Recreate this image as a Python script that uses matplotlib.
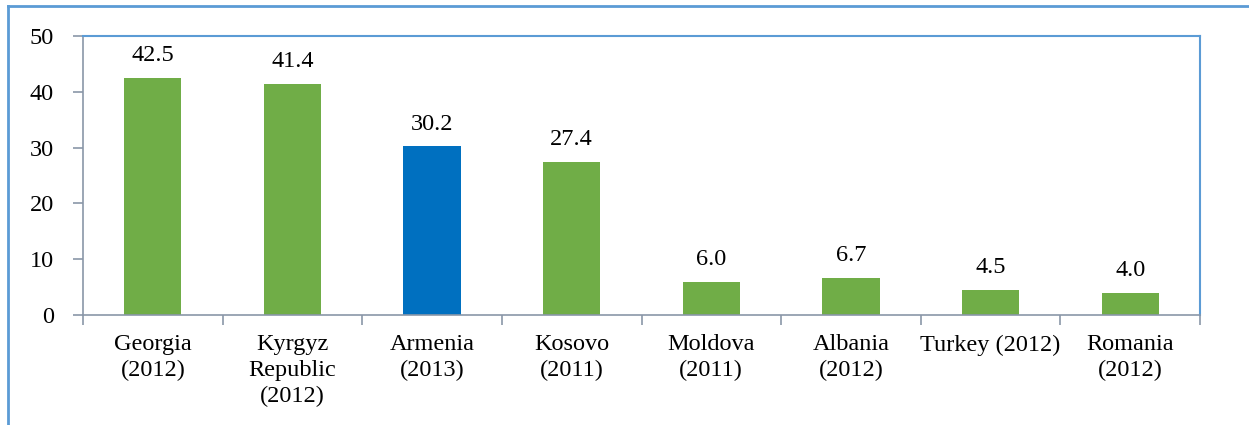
import matplotlib.pyplot as plt
from matplotlib.lines import Line2D

categories = ["Georgia\n(2012)", "Kyrgyz\nRepublic\n(2012)", "Armenia\n(2013)", "Kosovo\n(2011)",
              "Moldova\n(2011)", "Albania\n(2012)", "Turkey (2012)", "Romania\n(2012)"]
values = [42.5, 41.4, 30.2, 27.4, 6.0, 6.7, 4.5, 4.0]
colors = ["#70AD47", "#70AD47", "#0070C0", "#70AD47", "#70AD47", "#70AD47", "#70AD47", "#70AD47"]

plt.rcParams["font.family"] = ["Liberation Serif", "DejaVu Serif"]

W, H = 1249, 425
fig = plt.figure(figsize=(W / 100, H / 100), dpi=100)
ax = fig.add_axes([83 / W, 1 - 315 / H, (1200 - 83) / W, (315 - 36) / H])

x = range(len(values))
ax.bar(x, values, width=0.41, color=colors)
for i, v in enumerate(values):
    ax.text(i, v + 2.1, f"{v:.1f}", ha="center", va="bottom", fontsize=17.5)

ax.set_xlim(-0.5, len(values) - 0.5)
ax.set_ylim(0, 50)
ax.set_yticks([0, 10, 20, 30, 40, 50])
ax.set_xticks([i + 0.5 for i in range(-1, len(values))], minor=False)
ax.set_xticklabels([])
ax.set_xticks(list(x), minor=True)
ax.set_xticklabels(categories, minor=True, fontsize=17.5, linespacing=1.28)
ax.tick_params(axis="x", which="minor", length=0, pad=14)
ax.tick_params(axis="x", which="major", length=7, color="#8a97a8", width=1.2)
ax.tick_params(axis="y", length=7, color="#8a97a8", width=1.2, labelsize=17.5, pad=14)

for s in ["left", "bottom"]:
    ax.spines[s].set_color("#8a97a8")
    ax.spines[s].set_linewidth(1.2)
for s in ["top", "right"]:
    ax.spines[s].set_color("#5B9BD5")
    ax.spines[s].set_linewidth(1.5)

# outer frame of the chart area
fig.add_artist(Line2D([8 / W, 8 / W], [0, 1 - 6 / H], transform=fig.transFigure, color="#5B9BD5", lw=2))
fig.add_artist(Line2D([8 / W, 1], [1 - 6 / H, 1 - 6 / H], transform=fig.transFigure, color="#5B9BD5", lw=2))

fig.savefig("out.png", dpi=100)
